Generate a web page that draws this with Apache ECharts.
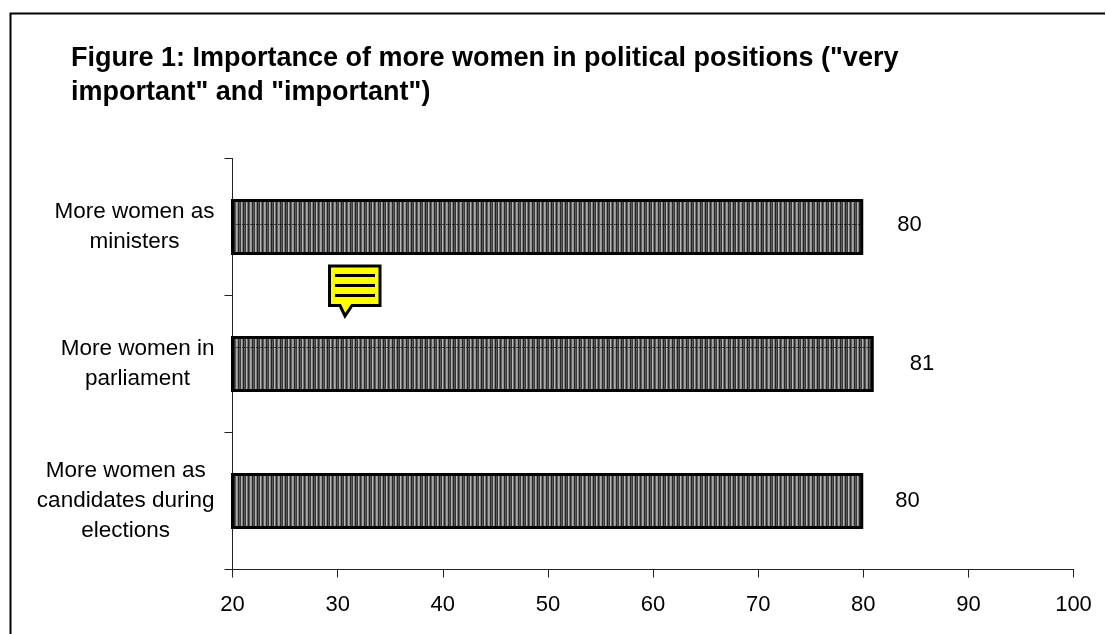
<!DOCTYPE html>
<html>
<head>
<meta charset="utf-8">
<style>html,body{margin:0;padding:0;background:#fff}#chart{width:1106px;height:634px}</style>
<script src="https://cdn.jsdelivr.net/npm/echarts@6/dist/echarts.min.js"></script>
</head>
<body>
<div id="chart"></div>
<script>
// Survey results, listed bottom to top along the category axis
const categories = [
  ['More women as', 'candidates during', 'elections'],
  ['More women in', 'parliament'],
  ['More women as', 'ministers']
];
const shareImportant = [80, 81, 80];
const xTicks = { min: 20, max: 100, step: 10 };
const chartTitle = 'Figure 1: Importance of more women in political positions ("very\nimportant" and "important")';

const FONT = '"Liberation Sans", Arial, sans-serif';
// Small per-bar shifts of the value labels, in the same order as the data
const labelShift = [[-2, 0], [2, 0], [0, -2]];

// Vertical hatch fill used for the bars, with a faint dashed row repeating down the page
function hatchPattern() {
  const stripes = ['#2a2a2a', '#5a5a5a', '#3a3a3a', '#b0b0b0', '#808080', '#222', '#5a5a5a', '#333', '#b8b8b8', '#707070', '#2a2a2a', '#5a5a5a', '#a8a8a8', '#909090'];
  const c = document.createElement('canvas');
  c.width = stripes.length;
  c.height = 123;
  const ctx = c.getContext('2d');
  stripes.forEach((col, i) => {
    ctx.fillStyle = col;
    ctx.fillRect(i, 0, 1, c.height);
  });
  ctx.fillStyle = 'rgba(0,0,0,0.55)';
  for (let x = 0; x < c.width; x += 4) {
    ctx.fillRect(x, 101, 3, 1);
  }
  return c;
}

const chart = echarts.init(document.getElementById('chart'), null, { renderer: 'canvas' });
chart.setOption({
  animation: false,
  backgroundColor: '#fff',
  title: {
    text: chartTitle,
    left: 66,
    top: 37,
    textStyle: { fontFamily: FONT, fontWeight: 'bold', fontSize: 27, lineHeight: 34, color: '#000' }
  },
  grid: { left: 232.5, top: 158.5, width: 841, height: 411, containLabel: false },
  xAxis: {
    type: 'value',
    min: xTicks.min,
    max: xTicks.max,
    interval: xTicks.step,
    splitLine: { show: false },
    axisLine: { show: true, lineStyle: { color: '#222', width: 1 } },
    axisTick: { show: true, length: 8, lineStyle: { color: '#222', width: 1 } },
    axisLabel: { margin: 24, color: '#000', fontFamily: FONT, fontSize: 22 }
  },
  yAxis: {
    type: 'category',
    data: categories.map(lines => lines.join('\n')),
    axisLine: { show: true, lineStyle: { color: '#222', width: 1 } },
    axisTick: { show: true, length: 8, lineStyle: { color: '#222', width: 1 } },
    axisLabel: {
      margin: 18,
      color: '#000',
      fontFamily: FONT,
      fontSize: 22,
      formatter: v => v.split('\n').map(l => '{c|' + l + '}').join('\n'),
      rich: { c: { align: 'center', fontFamily: FONT, fontSize: 22.5, lineHeight: 30, color: '#000' } }
    }
  },
  series: [{
    type: 'bar',
    data: shareImportant.map((value, i) => ({ value, label: { offset: labelShift[i] } })),
    barWidth: 56,
    itemStyle: {
      color: { image: hatchPattern(), repeat: 'repeat' },
      borderColor: '#000',
      borderWidth: 3
    },
    label: {
      show: true,
      position: 'right',
      distance: 34,
      color: '#000',
      fontFamily: FONT,
      fontSize: 22
    }
  }],
  graphic: [
    // Frame around the figure: open at the right and bottom edges of the page
    { type: 'polyline', silent: true, shape: { points: [[10.5, 634], [10.5, 13.5], [1105, 13.5]] },
      style: { stroke: '#000', lineWidth: 2, fill: null } },
    // Comment marker
    { type: 'polygon', silent: true,
      shape: { points: [[329.5, 266], [380, 266], [380, 305.5], [352, 305.5], [345, 316], [340, 305.5], [329.5, 305.5]] },
      style: { fill: '#ffff00', stroke: '#000', lineWidth: 3 } },
    { type: 'line', silent: true, shape: { x1: 335, y1: 275.5, x2: 375, y2: 275.5 }, style: { stroke: '#000', lineWidth: 3 } },
    { type: 'line', silent: true, shape: { x1: 335, y1: 285.5, x2: 375, y2: 285.5 }, style: { stroke: '#000', lineWidth: 3 } },
    { type: 'line', silent: true, shape: { x1: 335, y1: 295.5, x2: 375, y2: 295.5 }, style: { stroke: '#000', lineWidth: 3 } }
  ]
});
</script>
</body>
</html>
